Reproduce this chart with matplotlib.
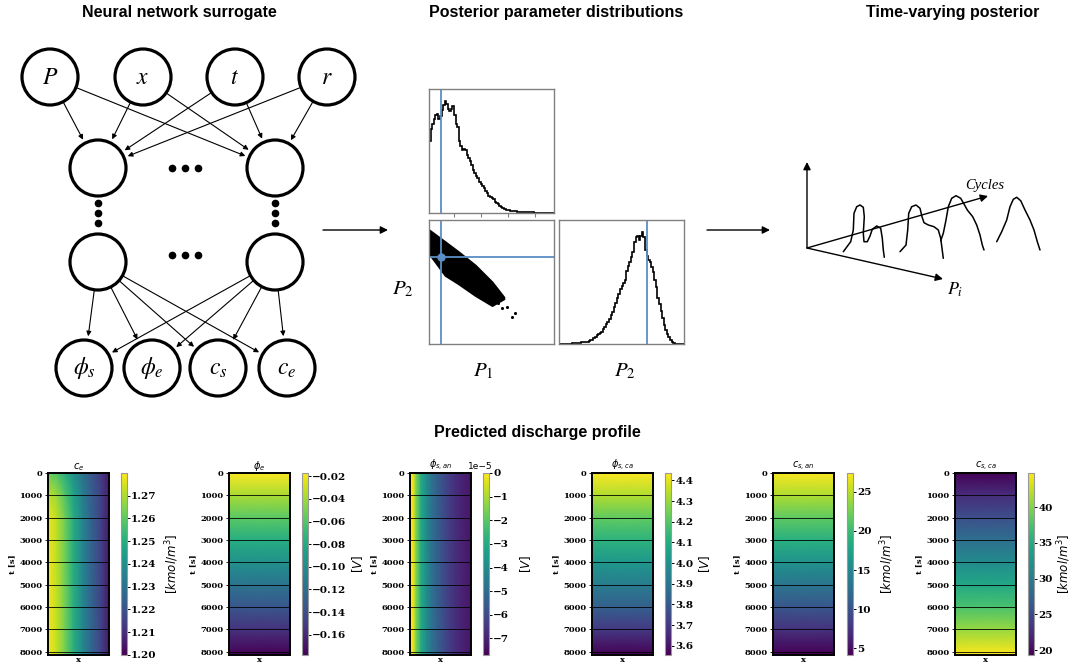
import numpy as np
import matplotlib.pyplot as plt
from matplotlib.patches import Circle

W, H = 1073, 668

# ---------------- posterior (unit-scaled axes) ----------------
p1_hist = [0.58, 0.68, 0.72, 0.76, 0.79, 0.80, 0.76, 0.78, 0.83, 0.87,
           0.90, 0.88, 0.84, 0.82, 0.84, 0.86, 0.79, 0.72, 0.69, 0.58,
           0.54, 0.51, 0.52, 0.51, 0.47, 0.44, 0.42, 0.39, 0.35, 0.32,
           0.30, 0.28, 0.25, 0.23, 0.22, 0.20, 0.18, 0.165, 0.14, 0.13,
           0.12, 0.11, 0.09, 0.08, 0.07, 0.06, 0.045, 0.037, 0.032, 0.028,
           0.026, 0.022, 0.02, 0.018, 0.015, 0.014, 0.012, 0.011, 0.01, 0.01,
           0.009, 0.008, 0.008, 0.007, 0.006, 0.005, 0.005, 0.004, 0.004, 0.003,
           0.003, 0.002, 0.002, 0.002, 0.001, 0.001, 0.001, 0.0, 0.0, 0.0]
p2_hist = [0, 0, 0, 0, 0, 0.001, 0.002, 0.004, 0.005, 0.006,
           0.008, 0.009, 0.011, 0.012, 0.014, 0.016, 0.017, 0.019, 0.02, 0.024,
           0.03, 0.034, 0.045, 0.06, 0.075, 0.08, 0.09, 0.10, 0.12, 0.135,
           0.16, 0.18, 0.20, 0.23, 0.26, 0.30, 0.33, 0.37, 0.40, 0.44,
           0.47, 0.49, 0.52, 0.59, 0.63, 0.66, 0.70, 0.74, 0.82, 0.86,
           0.87, 0.84, 0.87, 0.90, 0.86, 0.76, 0.71, 0.68, 0.66, 0.62,
           0.58, 0.52, 0.46, 0.37, 0.32, 0.27, 0.21, 0.15, 0.11, 0.08,
           0.055, 0.03, 0.015, 0.005, 0, 0, 0, 0, 0, 0]
p1_true = 0.094
p2_true = 0.70
# outline of the joint sample cloud
cloud_p1 = [0.0, 0.129, 0.236, 0.37, 0.504, 0.598]
cloud_hi = [0.92, 0.824, 0.743, 0.635, 0.50, 0.378]
cloud_lo = [0.73, 0.554, 0.486, 0.392, 0.311, 0.365]
outlier_p1 = [0.686, 0.62, 0.55, 0.66, 0.58]
outlier_p2 = [0.251, 0.30, 0.33, 0.22, 0.29]

# ---------------- predicted discharge profile ----------------
t_nodes = [0, 1000, 2000, 3000, 4000, 5000, 6000, 7000, 8000, 8150]
x_nodes8 = [0, 0.14, 0.28, 0.42, 0.57, 0.71, 0.86, 1.0]
ce_t = [0, 1000, 2000, 8150]
ce_table = [[1.262, 1.258, 1.250, 1.240, 1.230, 1.222, 1.214, 1.205],
            [1.272, 1.268, 1.258, 1.246, 1.234, 1.224, 1.216, 1.206],
            [1.278, 1.272, 1.262, 1.249, 1.236, 1.225, 1.216, 1.205],
            [1.279, 1.273, 1.263, 1.250, 1.237, 1.226, 1.217, 1.205]]
phi_e_t = [-0.018, -0.038, -0.058, -0.078, -0.097, -0.116, -0.135, -0.155, -0.175, -0.177]
x_nodes12 = [0, 0.05, 0.1, 0.18, 0.27, 0.36, 0.45, 0.55, 0.64, 0.75, 0.87, 1.0]
phi_san_x = [0.0, -0.2, -1.5, -3.0, -4.0, -4.8, -5.4, -5.9, -6.3, -6.7, -7.0, -7.3]
phi_sca_t = [4.43, 4.33, 4.22, 4.12, 4.02, 3.92, 3.82, 3.70, 3.57, 3.56]
cs_an_t = [27.2, 24.5, 21.6, 18.8, 16.0, 13.2, 10.4, 7.5, 4.5, 4.2]
cs_ca_t = [19.4, 22.5, 25.5, 28.5, 31.5, 34.5, 37.5, 40.8, 44.3, 44.7]

fig = plt.figure(figsize=(W / 100, H / 100), dpi=100)

# overlay axes in pixel units for the schematic parts
ov = fig.add_axes([0, 0, 1, 1], zorder=0)
ov.set_xlim(0, W)
ov.set_ylim(H, 0)
ov.axis('off')

title_kw = dict(fontsize=11.5, fontweight='bold', family='Liberation Sans', ha='center', va='center')
ov.text(179, 13, 'Neural network surrogate', **title_kw)
ov.text(556, 13, 'Posterior parameter distributions', **title_kw)
ov.text(953, 13, 'Time-varying posterior', **title_kw)
ov.text(537, 432, 'Predicted discharge profile', **title_kw)

# ---------------- neural network sketch ----------------
inputs = [(50, 77), (143, 77), (235, 77), (327, 77)]
h1 = [(98, 168), (275, 168)]
h2 = [(98, 262), (275, 262)]
outputs = [(84, 368), (152, 368), (218, 368), (287, 368)]
R = 28


def link(a, b, gap=4):
    (x0, y0), (x1, y1) = a, b
    d = np.hypot(x1 - x0, y1 - y0)
    ux, uy = (x1 - x0) / d, (y1 - y0) / d
    ov.annotate('', xy=(x1 - ux * (R + gap), y1 - uy * (R + gap)),
                xytext=(x0 + ux * (R - 2), y0 + uy * (R - 2)),
                arrowprops=dict(arrowstyle='-|>', color='k', lw=0.8,
                                mutation_scale=7, shrinkA=0, shrinkB=0))


for a in inputs:
    for b in h1:
        link(a, b)
for a in h2:
    for b in outputs:
        link(a, b)

for c in inputs + h1 + h2 + outputs:
    ov.add_patch(Circle(c, R, facecolor='white', edgecolor='k', lw=2.3, zorder=3))

for c, s in zip(inputs, ['$P$', '$x$', '$t$', '$r$']):
    ov.text(c[0], c[1], s, fontsize=17, math_fontfamily='stix', ha='center', va='center', zorder=4)
for c, s in zip(outputs, [r'$\phi_s$', r'$\phi_e$', '$c_s$', '$c_e$']):
    ov.text(c[0], c[1], s, fontsize=17, math_fontfamily='stix', ha='center', va='center', zorder=4)

ov.plot([172, 185, 198], [168] * 3, 'ko', ms=4.5)
ov.plot([172, 185, 198], [255] * 3, 'ko', ms=4.5)
ov.plot([98] * 3, [203, 213, 223], 'ko', ms=4.5)
ov.plot([275] * 3, [203, 213, 223], 'ko', ms=4.5)

big_arrow = dict(arrowstyle='-|>', color='k', lw=1.0, mutation_scale=11, shrinkA=0, shrinkB=0)
ov.annotate('', xy=(388, 230), xytext=(323, 230), arrowprops=big_arrow)
ov.annotate('', xy=(770, 230), xytext=(707, 230), arrowprops=big_arrow)

# ---------------- time-varying posterior sketch ----------------
orig = (807, 248)
ov.annotate('', xy=(807, 162), xytext=orig, arrowprops=big_arrow)
ov.annotate('', xy=(988, 196), xytext=orig, arrowprops=big_arrow)
ov.annotate('', xy=(943, 279), xytext=orig, arrowprops=big_arrow)
ov.text(985, 185, 'Cycles', family='Liberation Serif', style='italic', fontsize=10.5,
        ha='center', va='center')
ov.text(955, 290, '$P_i$', math_fontfamily='stix', fontsize=13, ha='center', va='center')

curves = [
    [(843.3, 251.7), (850.7, 241.7), (853.3, 230), (854, 213.3), (856.7, 206.7), (860, 205),
     (863.3, 207.3), (864.3, 216.7), (863.3, 233.3), (864, 241.7), (867.3, 241.7), (870, 236),
     (872.3, 229.3), (876.7, 226), (880.7, 228.3), (882.3, 238.3), (883.3, 250), (884.3, 257.3)],
    [(900, 251.7), (906, 245), (907.7, 230), (908.7, 213.3), (911.7, 206.7), (916, 205),
     (920, 208.3), (922, 216.7), (924, 222.7), (928.3, 225), (934, 226.7), (938.3, 230),
     (940.7, 238.3), (942, 248.3), (943.3, 258.3)],
    [(940.7, 240.7), (943.3, 233.3), (946, 220), (948.3, 206.7), (951.7, 198.3), (956, 195.7),
     (960.7, 198.3), (964, 204), (967.3, 210), (972.7, 216.7), (976.7, 225), (980, 235),
     (982.3, 245), (984, 250)],
    [(996.7, 241.7), (1001.7, 231.7), (1006.7, 220), (1010, 206.7), (1013.3, 199.3),
     (1016.7, 197.3), (1020.7, 200.7), (1025, 210), (1030, 220), (1034, 230),
     (1037.3, 241.7), (1040, 250)],
]
for cv in curves:
    xs, ys = zip(*cv)
    ov.plot(xs, ys, color='k', lw=1.1, solid_joinstyle='round', solid_capstyle='round')

# ---------------- corner plot ----------------
blue = '#5b8ec6'
spine_c = '#808080'


def px_axes(x0, y0, w, h):
    return fig.add_axes([x0 / W, 1 - (y0 + h) / H, w / W, h / H])


def style_corner(ax):
    for s in ax.spines.values():
        s.set_color(spine_c)
        s.set_linewidth(1.0)
    ax.set_xlim(0, 1)
    ax.set_ylim(0, 1)


edges = np.linspace(0, 1, len(p1_hist) + 1)
a1 = px_axes(429, 89, 125, 124)
a1.stairs(p1_hist, edges, color='k', lw=1.2)
a1.axvline(p1_true, color=blue, lw=1.3)
style_corner(a1)
a1.set_xticks([0.2, 0.417, 0.634, 0.851])
a1.set_xticklabels([])
a1.set_yticks([])
a1.tick_params(axis='x', direction='out', length=3, width=0.8, color=spine_c)

a2 = px_axes(429, 220, 125, 124)
a2.fill_between(cloud_p1, cloud_lo, cloud_hi, color='k', lw=1.5, edgecolor='k', joinstyle='round')
a2.scatter(outlier_p1, outlier_p2, s=1.5, color='k')
a2.axvline(p1_true, color=blue, lw=1.3)
a2.axhline(p2_true, color=blue, lw=1.3)
a2.plot([p1_true], [p2_true], 'o', color=blue, ms=5)
style_corner(a2)
a2.set_xticks([])
a2.set_yticks([])

edges2 = np.linspace(0, 1, len(p2_hist) + 1)
a3 = px_axes(559, 220, 125, 124)
a3.stairs(p2_hist, edges2, color='k', lw=1.2)
a3.axvline(p2_true, color=blue, lw=1.3)
style_corner(a3)
a3.set_xticks([])
a3.set_yticks([])

ov.text(483, 371, '$P_1$', math_fontfamily='stix', fontsize=15, ha='center', va='center')
ov.text(625, 371, '$P_2$', math_fontfamily='stix', fontsize=15, ha='center', va='center')
ov.text(403, 289, '$P_2$', math_fontfamily='stix', fontsize=15, ha='center', va='center')

# ---------------- heatmaps ----------------
serif_b = dict(family='DejaVu Serif', fontweight='bold')
panel_left = [48, 229, 410, 592, 773, 955]
cbar_left = [121, 302, 483, 665, 847, 1028]
cbar_label_x = [7.0, 8.0, 5.8, 5.4, 5.2, 4.5]   # label left edge, in colorbar widths
top, ph = 473, 182


def heat(i, xn, tn, table, vmin, vmax, title, cticks, clabels, clabel):
    ax = px_axes(panel_left[i], top, 61, ph)
    X, T = np.meshgrid(xn, tn)
    mesh = ax.pcolormesh(X, T, np.asarray(table), shading='gouraud', cmap='viridis',
                         vmin=vmin, vmax=vmax)
    ax.set_xlim(0, 1)
    ax.set_ylim(8150, 0)
    ax.set_xticks([])
    ticks = list(range(0, 8001, 1000))
    ax.set_yticks(ticks, labels=[str(v) for v in ticks], fontsize=6, **serif_b)
    ax.tick_params(axis='y', length=2, width=0.6, pad=2)
    ax.grid(axis='y', color='k', lw=0.7, alpha=0.85)
    ax.set_axisbelow(False)
    for s in ax.spines.values():
        s.set_linewidth(1.4)
    ax.set_xlabel('x', fontsize=6, labelpad=1, **serif_b)
    ax.set_ylabel('t [s]', fontsize=6, labelpad=2, **serif_b)
    ax.set_title(title, fontsize=7, pad=2)
    cax = px_axes(cbar_left[i], top, 6, ph)
    cb = fig.colorbar(mesh, cax=cax)
    cb.set_ticks(cticks, labels=clabels, fontsize=7.5, **serif_b)
    cb.outline.set_edgecolor('0.6')
    cb.outline.set_linewidth(0.8)
    cax.tick_params(length=2, width=0.7, pad=1)
    cb.set_label(clabel, fontsize=8.5)
    cax.yaxis.set_label_coords(cbar_label_x[i], 0.5)
    return cax


heat(0, x_nodes8, ce_t, ce_table, 1.200, 1.280, '$c_e$',
     [1.20, 1.21, 1.22, 1.23, 1.24, 1.25, 1.26, 1.27],
     ['1.20', '1.21', '1.22', '1.23', '1.24', '1.25', '1.26', '1.27'], '$[kmol/m^3]$')

heat(1, [0, 1], t_nodes, np.column_stack([phi_e_t, phi_e_t]), -0.178, -0.017, r'$\phi_e$',
     [-0.16, -0.14, -0.12, -0.10, -0.08, -0.06, -0.04, -0.02],
     ['\u22120.16', '\u22120.14', '\u22120.12', '\u22120.10', '\u22120.08', '\u22120.06',
      '\u22120.04', '\u22120.02'], '$[V]$')

cax3 = heat(2, x_nodes12, [0, 8150], np.vstack([phi_san_x, phi_san_x]) * 1e-5, -7.7e-5, 0.0,
            r'$\phi_{s,an}$', [v * 1e-5 for v in range(-7, 1)],
            ['\u22127', '\u22126', '\u22125', '\u22124', '\u22123', '\u22122', '\u22121', '0'],
            '$[V]$')
cax3.text(-0.4, 1.01, '1e\u22125', transform=cax3.transAxes, ha='center', va='bottom',
          fontsize=6.5, family='DejaVu Sans')

heat(3, [0, 1], t_nodes, np.column_stack([phi_sca_t, phi_sca_t]), 3.555, 4.436, r'$\phi_{s,ca}$',
     [3.6, 3.7, 3.8, 3.9, 4.0, 4.1, 4.2, 4.3, 4.4],
     ['3.6', '3.7', '3.8', '3.9', '4.0', '4.1', '4.2', '4.3', '4.4'], '$[V]$')

heat(4, [0, 1], t_nodes, np.column_stack([cs_an_t, cs_an_t]), 4.15, 27.4, '$c_{s,an}$',
     [5, 10, 15, 20, 25], ['5', '10', '15', '20', '25'], '$[kmol/m^3]$')

heat(5, [0, 1], t_nodes, np.column_stack([cs_ca_t, cs_ca_t]), 19.3, 44.8, '$c_{s,ca}$',
     [20, 25, 30, 35, 40], ['20', '25', '30', '35', '40'], '$[kmol/m^3]$')

fig.savefig('out.png', dpi=100)
